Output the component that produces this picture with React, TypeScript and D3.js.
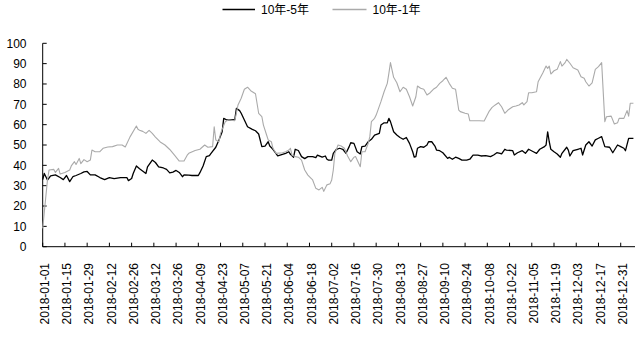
import React from "react";
import * as d3 from "d3";

// 10年-5年 spread (bp)
const spread10y5y: [string, number][] = [
  ["2018-01-01", 33], ["2018-01-02", 36], ["2018-01-04", 32.8], ["2018-01-06", 34.8], ["2018-01-09", 35.3],
  ["2018-01-12", 34], ["2018-01-14", 33], ["2018-01-16", 35], ["2018-01-18", 32], ["2018-01-20", 34.4],
  ["2018-01-22", 35], ["2018-01-25", 36], ["2018-01-27", 36.8], ["2018-01-29", 37], ["2018-01-31", 35.3],
  ["2018-02-03", 35.3], ["2018-02-06", 34], ["2018-02-09", 33], ["2018-02-12", 34], ["2018-02-15", 33.5],
  ["2018-02-19", 34], ["2018-02-23", 34], ["2018-02-24", 32.5], ["2018-02-26", 33.5], ["2018-02-27", 36],
  ["2018-03-01", 39.7], ["2018-03-03", 38.3], ["2018-03-07", 36], ["2018-03-08", 39.2], ["2018-03-11", 42.6],
  ["2018-03-13", 41.4], ["2018-03-15", 39.3], ["2018-03-18", 38.7], ["2018-03-20", 38], ["2018-03-22", 36.3],
  ["2018-03-24", 36.7], ["2018-03-26", 37.5], ["2018-03-28", 36.5], ["2018-03-30", 34.4], ["2018-03-31", 35.3],
  ["2018-04-03", 35.2], ["2018-04-05", 35], ["2018-04-09", 35], ["2018-04-10", 36.4], ["2018-04-12", 39.7],
  ["2018-04-14", 44.3], ["2018-04-16", 44.8], ["2018-04-17", 45.9], ["2018-04-20", 48.9], ["2018-04-22", 52.5],
  ["2018-04-24", 56.5], ["2018-04-25", 63.1], ["2018-04-27", 62.3], ["2018-04-29", 62.3], ["2018-05-02", 62.6],
  ["2018-05-03", 68], ["2018-05-05", 66.9], ["2018-05-06", 65.6], ["2018-05-08", 62.3], ["2018-05-10", 59],
  ["2018-05-13", 57.7], ["2018-05-15", 57], ["2018-05-17", 55.4], ["2018-05-19", 49.2], ["2018-05-21", 49.5],
  ["2018-05-23", 51.6], ["2018-05-24", 49.5], ["2018-05-26", 47.9], ["2018-05-29", 44.7], ["2018-06-01", 45.4],
  ["2018-06-03", 45.9], ["2018-06-05", 46.7], ["2018-06-06", 45.4], ["2018-06-08", 44], ["2018-06-09", 47.9],
  ["2018-06-11", 47.3], ["2018-06-13", 44.3], ["2018-06-15", 43.3], ["2018-06-17", 44.3], ["2018-06-20", 44.3],
  ["2018-06-22", 43.8], ["2018-06-23", 45], ["2018-06-26", 44], ["2018-06-28", 44.6], ["2018-06-29", 43],
  ["2018-06-30", 42.6], ["2018-07-02", 42.6], ["2018-07-03", 45.9], ["2018-07-05", 47.9], ["2018-07-07", 48.4],
  ["2018-07-09", 47.9], ["2018-07-11", 45.9], ["2018-07-13", 49.2], ["2018-07-14", 51.1], ["2018-07-16", 50.8],
  ["2018-07-18", 46.7], ["2018-07-20", 45.6], ["2018-07-21", 49.2], ["2018-07-23", 49.5], ["2018-07-25", 51.6],
  ["2018-07-27", 52.8], ["2018-07-29", 54.9], ["2018-08-01", 55.7], ["2018-08-02", 59.8], ["2018-08-04", 60.9],
  ["2018-08-06", 60.9], ["2018-08-07", 63.1], ["2018-08-08", 61.5], ["2018-08-10", 56.5], ["2018-08-12", 54.9],
  ["2018-08-14", 53.7], ["2018-08-16", 52.8], ["2018-08-18", 53.7], ["2018-08-20", 50.8], ["2018-08-22", 46.7],
  ["2018-08-23", 44], ["2018-08-24", 44.3], ["2018-08-25", 48.4], ["2018-08-27", 49.2], ["2018-08-29", 48.9],
  ["2018-08-31", 50], ["2018-09-01", 51.6], ["2018-09-03", 51.6], ["2018-09-05", 49.5], ["2018-09-06", 47.5],
  ["2018-09-08", 47.2], ["2018-09-10", 46.2], ["2018-09-13", 43.4], ["2018-09-14", 44], ["2018-09-16", 43],
  ["2018-09-18", 44], ["2018-09-20", 43.4], ["2018-09-22", 42.6], ["2018-09-25", 42.6], ["2018-09-27", 43],
  ["2018-09-29", 45], ["2018-10-02", 45], ["2018-10-04", 44.6], ["2018-10-07", 44.8], ["2018-10-10", 44.3],
  ["2018-10-12", 45.1], ["2018-10-14", 46.2], ["2018-10-16", 45.9], ["2018-10-17", 45.6], ["2018-10-19", 47.9],
  ["2018-10-20", 47.5], ["2018-10-24", 47.2], ["2018-10-25", 45.1], ["2018-10-27", 46.2], ["2018-10-30", 47.2],
  ["2018-11-01", 45.9], ["2018-11-03", 47.9], ["2018-11-06", 46.7], ["2018-11-08", 45.9], ["2018-11-10", 47.9],
  ["2018-11-13", 49.2], ["2018-11-14", 50], ["2018-11-15", 56.5], ["2018-11-16", 51.6], ["2018-11-17", 47.9],
  ["2018-11-19", 46.7], ["2018-11-21", 45.6], ["2018-11-23", 44], ["2018-11-24", 45.9], ["2018-11-27", 48.9],
  ["2018-11-28", 47.5], ["2018-11-29", 44.6], ["2018-12-01", 47.2], ["2018-12-04", 47.9], ["2018-12-06", 48.4],
  ["2018-12-07", 45.1], ["2018-12-09", 50], ["2018-12-11", 51.6], ["2018-12-13", 49.5], ["2018-12-15", 52.5],
  ["2018-12-17", 53.3], ["2018-12-19", 54.1], ["2018-12-21", 49.2], ["2018-12-24", 48.9], ["2018-12-26", 46.2],
  ["2018-12-29", 50], ["2018-12-31", 49.2], ["2019-01-02", 48.4], ["2019-01-03", 47.2], ["2019-01-05", 53.3],
  ["2019-01-08", 53.3],
];

// 10年-1年 spread (bp)
const spread10y1y: [string, number][] = [
  ["2018-01-01", 9], ["2018-01-04", 32.8], ["2018-01-05", 37.7], ["2018-01-08", 38], ["2018-01-09", 36.5],
  ["2018-01-11", 38.5], ["2018-01-12", 35.7], ["2018-01-15", 36.5], ["2018-01-18", 37.7], ["2018-01-19", 39.7],
  ["2018-01-21", 41.8], ["2018-01-22", 40.4], ["2018-01-24", 43.4], ["2018-01-25", 40.8], ["2018-01-27", 42.8],
  ["2018-01-29", 41.8], ["2018-01-31", 42.6], ["2018-02-01", 47.5], ["2018-02-03", 46.7], ["2018-02-06", 46.7],
  ["2018-02-08", 48.4], ["2018-02-11", 49], ["2018-02-14", 49.2], ["2018-02-17", 50], ["2018-02-20", 50],
  ["2018-02-22", 49], ["2018-02-25", 54], ["2018-03-01", 59.3], ["2018-03-02", 57.7], ["2018-03-03", 57.3],
  ["2018-03-05", 56.7], ["2018-03-07", 55.7], ["2018-03-09", 57.2], ["2018-03-11", 55.7], ["2018-03-13", 53.9],
  ["2018-03-16", 51.5], ["2018-03-19", 50], ["2018-03-22", 47.8], ["2018-03-25", 45], ["2018-03-28", 42.1],
  ["2018-03-31", 42.1], ["2018-04-02", 45], ["2018-04-03", 45.9], ["2018-04-07", 47.3], ["2018-04-10", 47.9],
  ["2018-04-13", 50], ["2018-04-15", 48.9], ["2018-04-18", 49.2], ["2018-04-19", 59], ["2018-04-20", 52.5],
  ["2018-04-22", 51.6], ["2018-04-23", 55.7], ["2018-04-26", 61.5], ["2018-04-28", 62.3], ["2018-05-02", 62],
  ["2018-05-04", 69.7], ["2018-05-06", 73], ["2018-05-08", 77.4], ["2018-05-10", 78.4], ["2018-05-12", 76.7],
  ["2018-05-14", 75.7], ["2018-05-15", 75.2], ["2018-05-17", 65.6], ["2018-05-19", 64], ["2018-05-20", 59.8],
  ["2018-05-22", 54.9], ["2018-05-23", 52.5], ["2018-05-25", 51.6], ["2018-05-26", 48.4], ["2018-05-28", 45.9],
  ["2018-06-01", 46.2], ["2018-06-03", 46.7], ["2018-06-05", 47.5], ["2018-06-06", 48.4], ["2018-06-07", 45],
  ["2018-06-09", 44.3], ["2018-06-11", 44], ["2018-06-13", 42.6], ["2018-06-15", 37.7], ["2018-06-17", 35.2],
  ["2018-06-20", 32.8], ["2018-06-22", 28.7], ["2018-06-24", 27.9], ["2018-06-26", 29.2], ["2018-06-27", 27.2],
  ["2018-06-29", 30.4], ["2018-07-01", 31], ["2018-07-02", 32.8], ["2018-07-03", 37.7], ["2018-07-04", 45.9],
  ["2018-07-06", 50], ["2018-07-08", 49.5], ["2018-07-10", 48.4], ["2018-07-12", 44.6], ["2018-07-14", 41.8],
  ["2018-07-16", 44], ["2018-07-17", 44.3], ["2018-07-20", 39.3], ["2018-07-21", 46.7], ["2018-07-23", 46.7],
  ["2018-07-25", 50.8], ["2018-07-26", 54.1], ["2018-07-27", 61.5], ["2018-07-29", 63.1], ["2018-07-30", 64.7],
  ["2018-08-02", 71.3], ["2018-08-04", 76.2], ["2018-08-06", 80.3], ["2018-08-07", 85.2], ["2018-08-08", 90.5],
  ["2018-08-10", 83.3], ["2018-08-12", 80.6], ["2018-08-14", 76.2], ["2018-08-16", 78.4], ["2018-08-18", 77.4],
  ["2018-08-20", 73.7], ["2018-08-22", 69.2], ["2018-08-24", 73.7], ["2018-08-25", 79], ["2018-08-27", 77.9],
  ["2018-08-29", 77.4], ["2018-08-31", 74.6], ["2018-09-02", 75.7], ["2018-09-04", 77.4], ["2018-09-06", 78.4],
  ["2018-09-08", 80.3], ["2018-09-10", 81.6], ["2018-09-12", 83.3], ["2018-09-14", 80.3], ["2018-09-16", 77.9],
  ["2018-09-18", 77.4], ["2018-09-20", 67.2], ["2018-09-21", 66.4], ["2018-09-24", 65.6], ["2018-09-26", 65.2],
  ["2018-09-27", 61.9], ["2018-10-03", 61.9], ["2018-10-06", 61.8], ["2018-10-09", 66.4], ["2018-10-11", 68.5],
  ["2018-10-13", 69.7], ["2018-10-15", 70.8], ["2018-10-17", 68.8], ["2018-10-19", 65.6], ["2018-10-21", 67.2],
  ["2018-10-24", 68.8], ["2018-10-26", 69.2], ["2018-10-28", 69.7], ["2018-10-30", 70.8], ["2018-10-31", 69.7],
  ["2018-11-02", 71.3], ["2018-11-03", 75.7], ["2018-11-05", 75.7], ["2018-11-08", 76.2], ["2018-11-09", 81.1],
  ["2018-11-12", 85.5], ["2018-11-14", 88.8], ["2018-11-15", 87.7], ["2018-11-16", 88.8], ["2018-11-17", 84.9],
  ["2018-11-19", 86.5], ["2018-11-21", 87.2], ["2018-11-23", 91], ["2018-11-24", 88.8], ["2018-11-26", 90.5],
  ["2018-11-27", 92.1], ["2018-11-29", 90.2], ["2018-12-01", 88], ["2018-12-04", 86.9], ["2018-12-06", 83.6],
  ["2018-12-08", 82.8], ["2018-12-09", 81.1], ["2018-12-11", 79], ["2018-12-13", 80.6], ["2018-12-15", 87.2],
  ["2018-12-17", 88.5], ["2018-12-19", 90.5], ["2018-12-21", 61.5], ["2018-12-22", 63.9], ["2018-12-25", 64.2],
  ["2018-12-27", 60.3], ["2018-12-29", 60.9], ["2018-12-30", 63.1], ["2019-01-02", 63.1], ["2019-01-04", 66.9],
  ["2019-01-05", 64.2], ["2019-01-06", 70.5], ["2019-01-08", 70.5],
];

const xTickLabels = [
  "2018-01-01", "2018-01-15", "2018-01-29", "2018-02-12", "2018-02-26", "2018-03-12", "2018-03-26",
  "2018-04-09", "2018-04-23", "2018-05-07", "2018-05-21", "2018-06-04", "2018-06-18", "2018-07-02",
  "2018-07-16", "2018-07-30", "2018-08-13", "2018-08-27", "2018-09-10", "2018-09-24", "2018-10-08",
  "2018-10-22", "2018-11-05", "2018-11-19", "2018-12-03", "2018-12-17", "2018-12-31",
];
const yTicks = [0, 10, 20, 30, 40, 50, 60, 70, 80, 90, 100];
const seriesNames = ["10年-5年", "10年-1年"];

const W = 643;
const H = 339;
const FONT = '"Liberation Sans", Arial, "Noto Sans CJK SC", sans-serif';

export default function App() {
  const parse = d3.utcParse("%Y-%m-%d");
  const x = d3
    .scaleUtc()
    .domain([parse("2018-01-01")!, parse("2019-01-09")!])
    .range([42.7, 635]);
  const y = d3.scaleLinear().domain([0, 100]).range([246.7, 43.3]);

  const line = d3
    .line<[string, number]>()
    .x((d) => x(parse(d[0])!))
    .y((d) => y(d[1]));

  const x0 = x.range()[0];
  const x1 = x.range()[1];
  const yBase = y(0);

  return (
    <svg
      width={W}
      height={H}
      style={{ position: "absolute", left: 0, top: 0, background: "#fff" }}
      fontFamily={FONT}
    >
      {/* legend */}
      <g>
        <line x1={222.5} x2={255} y1={9.5} y2={9.5} stroke="#000" strokeWidth={1.3} />
        <text x={261} y={9.5} dy="0.35em" fontSize={12} fill="#000">
          {seriesNames[0]}
        </text>
        <line x1={332.5} x2={366.5} y1={9.5} y2={9.5} stroke="#aaaaaa" strokeWidth={1.3} />
        <text x={372.5} y={9.5} dy="0.35em" fontSize={12} fill="#000">
          {seriesNames[1]}
        </text>
      </g>

      {/* y axis */}
      <line x1={x0} x2={x0} y1={y(100)} y2={yBase} stroke="#000" strokeWidth={1} />
      {yTicks.map((t) => (
        <g key={t}>
          <line x1={x0} x2={x0 + 4} y1={y(t)} y2={y(t)} stroke="#000" strokeWidth={1} />
          <text x={26.5} y={y(t)} dy="0.35em" textAnchor="end" fontSize={12} fill="#000">
            {t}
          </text>
        </g>
      ))}

      {/* x axis */}
      <line x1={x0} x2={x1} y1={yBase} y2={yBase} stroke="#000" strokeWidth={1} />
      {xTickLabels.map((lbl) => {
        const px = x(parse(lbl)!);
        return (
          <g key={lbl}>
            <line x1={px} x2={px} y1={yBase} y2={yBase - 4} stroke="#000" strokeWidth={1} />
            <text
              transform={`translate(${px + 2},263) rotate(-90)`}
              dy="0.35em"
              textAnchor="end"
              fontSize={12}
              fill="#000"
            >
              {lbl}
            </text>
          </g>
        );
      })}

      {/* series */}
      <path d={line(spread10y5y) ?? ""} fill="none" stroke="#000" strokeWidth={1.3} strokeLinejoin="round" />
      <path d={line(spread10y1y) ?? ""} fill="none" stroke="#aaaaaa" strokeWidth={1.1} strokeLinejoin="round" />
    </svg>
  );
}
